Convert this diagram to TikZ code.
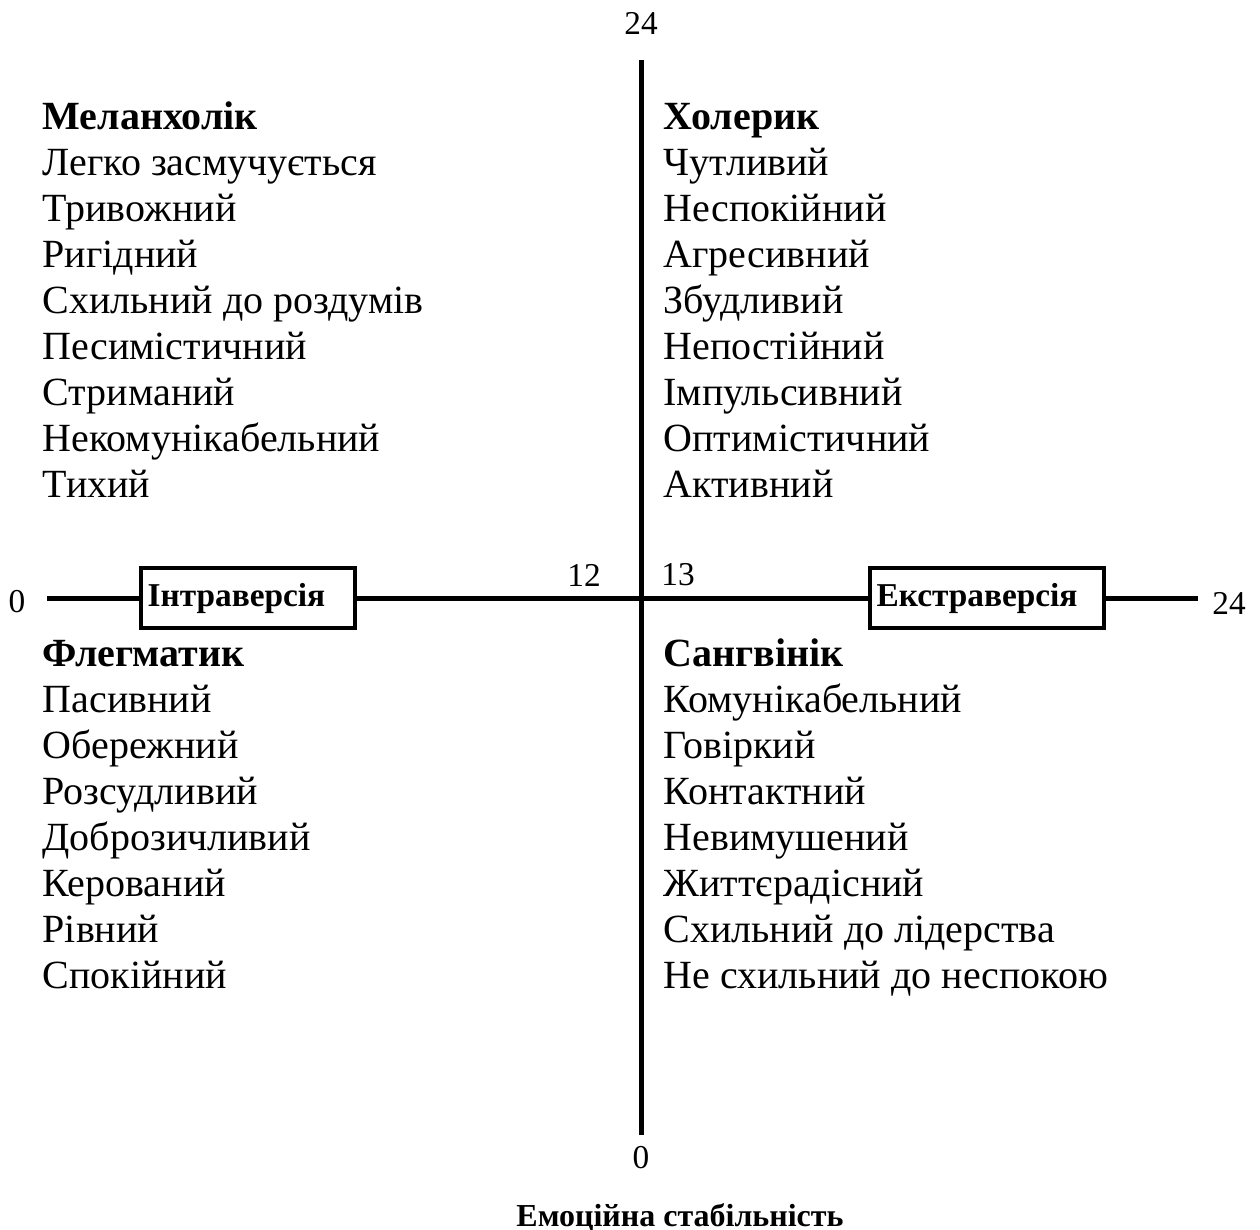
\documentclass[tikz,border=0pt]{standalone}
\usepackage{fontspec}
\setmainfont{Liberation Serif}

\begin{document}
\begin{tikzpicture}[x=0.3pt, y=-0.3pt, every node/.style={font=\fontsize{12}{13.8}\selectfont, inner sep=0pt},
	axis/.style={line width=1.5pt},
	tagbox/.style={draw, line width=1.1pt, inner xsep=2pt, minimum height=18pt, align=left, font=\fontsize{10}{12}\selectfont\bfseries},
	num/.style={font=\fontsize{10}{12}\selectfont},
	head/.style={anchor=base west, font=\fontsize{12}{13.8}\selectfont\bfseries},
	trait/.style={anchor=base west}]
	\useasboundingbox (0,0) rectangle (1260,1229);
	% axes
	\coordinate (ytop) at (641,60);
	\coordinate (ybot) at (641,1135);
	\coordinate (xl) at (47,598);
	\coordinate (xr) at (1198,598);
	\node[tagbox, text width=60.2pt] (intro) at (248,598) {Інтраверсія};
	\node[tagbox, text width=66.2pt] (extra) at (987,598) {Екстраверсія};
	\draw[axis] (ytop) -- (ybot);
	\draw[axis] (xl) -- (intro.west);
	\draw[axis] (intro.east) -- (extra.west);
	\draw[axis] (extra.east) -- (xr);
	% scale marks
	\node[num] (ntop) at (641,23) {24};
	\node[num] (nbot) at (641,1158) {0};
	\node[num] (nleft) at (17,602) {0};
	\node[num] (nright) at (1229,603) {24};
	\node[num] (n12) at (584,575) {12};
	\node[num] (n13) at (678,575) {13};
	\node[anchor=base, font=\fontsize{9.6}{11.5}\selectfont\bfseries] (stab) at (680,1226) {Емоційна стабільність};
	% quadrants
	\node[head] (mel) at (42,129) {Меланхолік};
	\foreach \t [count=\i] in {Легко засмучується, Тривожний, Ригідний, Схильний до роздумів, Песимістичний, Стриманий, Некомунікабельний, Тихий}
		\node[trait] (mel\i) at (42,{129+46*\i}) {\t};
	\node[head] (chol) at (663,129) {Холерик};
	\foreach \t [count=\i] in {Чутливий, Неспокійний, Агресивний, Збудливий, Непостійний, Імпульсивний, Оптимістичний, Активний}
		\node[trait] (chol\i) at (663,{129+46*\i}) {\t};
	\node[head] (phl) at (42,666) {Флегматик};
	\foreach \t [count=\i] in {Пасивний, Обережний, Розсудливий, Доброзичливий, Керований, Рівний, Спокійний}
		\node[trait] (phl\i) at (42,{666+46*\i}) {\t};
	\node[head] (sang) at (663,666) {Сангвінік};
	\foreach \t [count=\i] in {Комунікабельний, Говіркий, Контактний, Невимушений, Життєрадісний, Схильний до лідерства, Не схильний до неспокою}
		\node[trait] (sang\i) at (663,{666+46*\i}) {\t};
\end{tikzpicture}
\end{document}
